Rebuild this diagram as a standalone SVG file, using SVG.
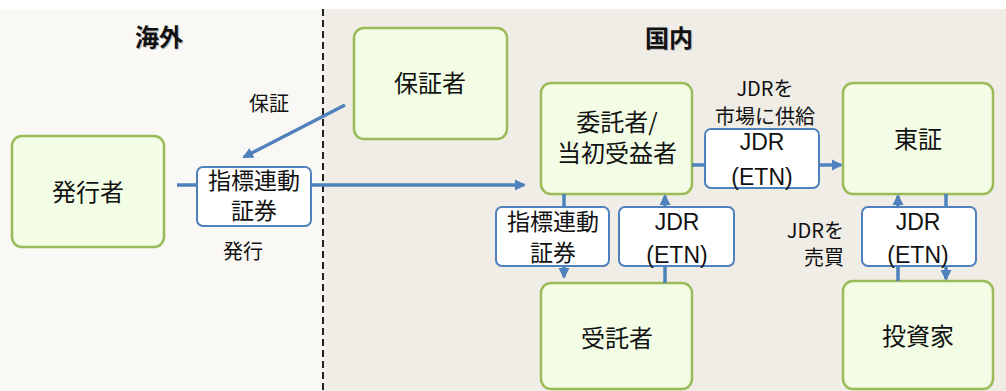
<svg xmlns="http://www.w3.org/2000/svg" width="1006" height="391" viewBox="0 0 1006 391">
<style>
.node rect{fill:#f3fde6;stroke:#9bbb59;stroke-width:2.5}
.sec rect{fill:#ffffff;stroke:#4f81bd;stroke-width:2}
text{font-family:"Noto Sans CJK JP","Liberation Sans",sans-serif;fill:#111;text-anchor:middle}
.nt{font-size:24px}
.bt{font-size:23px}
.lt{font-size:20px}
.ttl{font-size:24px;font-weight:bold}
.sh{fill:#bbb}
.conn line{stroke:#4f81bd;stroke-width:3.5;fill:none}
.lat{font-family:"Liberation Sans","Noto Sans CJK JP",sans-serif}
</style>
<defs>
<marker id="ah" markerUnits="userSpaceOnUse" markerWidth="12" markerHeight="12" refX="9" refY="6" orient="auto">
<path d="M0,0.5 L11,6 L0,11.5 z" fill="#4f81bd"/>
</marker>
</defs>
<rect x="0" y="0" width="1006" height="391" fill="#ffffff"/>
<rect x="0" y="9" width="324" height="382" fill="#f9f8f4"/>
<rect x="324" y="9" width="682" height="382" fill="#f0ede7"/>
<line x1="323" y1="9" x2="323" y2="391" stroke="#222" stroke-width="2" stroke-dasharray="7,4"/>

<g id="title-kaigai">
<text class="ttl sh" x="160" y="47">海外</text>
<text class="ttl" x="159" y="46">海外</text>
</g>
<g id="title-kokunai">
<text class="ttl sh" x="670" y="48">国内</text>
<text class="ttl" x="669" y="47">国内</text>
</g>

<g id="issuer" class="node"><rect x="12" y="136" width="152" height="111" rx="10"/><text class="nt" x="88" y="201">発行者</text></g>
<g id="guarantor" class="node"><rect x="354" y="28" width="153" height="111" rx="10"/><text class="nt" x="430" y="92">保証者</text></g>
<g id="trustor" class="node"><rect x="541" y="83" width="151" height="111" rx="10"/><text class="nt" x="617" y="131">委託者/</text><text class="nt" x="617" y="162">当初受益者</text></g>
<g id="tse" class="node"><rect x="843" y="83" width="150" height="111" rx="10"/><text class="nt" x="918" y="148">東証</text></g>
<g id="trustee" class="node"><rect x="541" y="283" width="151" height="106" rx="10"/><text class="nt" x="617" y="347">受託者</text></g>
<g id="investor" class="node"><rect x="843" y="281" width="150" height="108" rx="10"/><text class="nt" x="918" y="345">投資家</text></g>

<g id="connectors" class="conn">
<line x1="177" y1="185" x2="197" y2="185"/>
<line x1="311" y1="185" x2="524" y2="185" marker-end="url(#ah)"/>
<line x1="345" y1="105" x2="244" y2="157" marker-end="url(#ah)"/>
<line x1="692" y1="165" x2="705" y2="165"/>
<line x1="819" y1="165" x2="841" y2="165" marker-end="url(#ah)"/>
<line x1="564" y1="194" x2="564" y2="207"/>
<line x1="564" y1="266" x2="564" y2="277" marker-end="url(#ah)"/>
<line x1="665" y1="283" x2="665" y2="266"/>
<line x1="665" y1="207" x2="665" y2="196" marker-end="url(#ah)"/>
<line x1="898" y1="281" x2="898" y2="266"/>
<line x1="898" y1="207" x2="898" y2="196" marker-end="url(#ah)"/>
<line x1="946" y1="194" x2="946" y2="207"/>
<line x1="946" y1="266" x2="946" y2="279" marker-end="url(#ah)"/>
</g>

<g id="sec-issue" class="sec"><rect x="197" y="167" width="114" height="59" rx="6"/><text class="bt" x="254" y="189">指標連動</text><text class="bt" x="254" y="219">証券</text></g>
<g id="jdr-supply" class="sec"><rect x="705" y="129" width="114" height="59" rx="6"/><text class="bt lat" x="762" y="150">JDR</text><text class="bt lat" x="762" y="185">(ETN)</text></g>
<g id="sec-trust" class="sec"><rect x="496" y="207" width="113" height="59" rx="6"/><text class="bt" x="553" y="230">指標連動</text><text class="bt" x="553" y="261">証券</text></g>
<g id="jdr-trust" class="sec"><rect x="619" y="207" width="115" height="59" rx="6"/><text class="bt lat" x="677" y="230">JDR</text><text class="bt lat" x="677" y="263">(ETN)</text></g>
<g id="jdr-trade" class="sec"><rect x="862" y="207" width="114" height="59" rx="6"/><text class="bt lat" x="918" y="230">JDR</text><text class="bt lat" x="918" y="263">(ETN)</text></g>

<g id="labels">
<text class="lt" x="269" y="111">保証</text>
<text class="lt" x="243" y="259">発行</text>
<text class="lt" x="765" y="96">JDRを</text>
<text class="lt" x="765" y="124">市場に供給</text>
<text class="lt" x="844" y="238" style="text-anchor:end">JDRを</text>
<text class="lt" x="844" y="265" style="text-anchor:end">売買</text>
</g>
</svg>
